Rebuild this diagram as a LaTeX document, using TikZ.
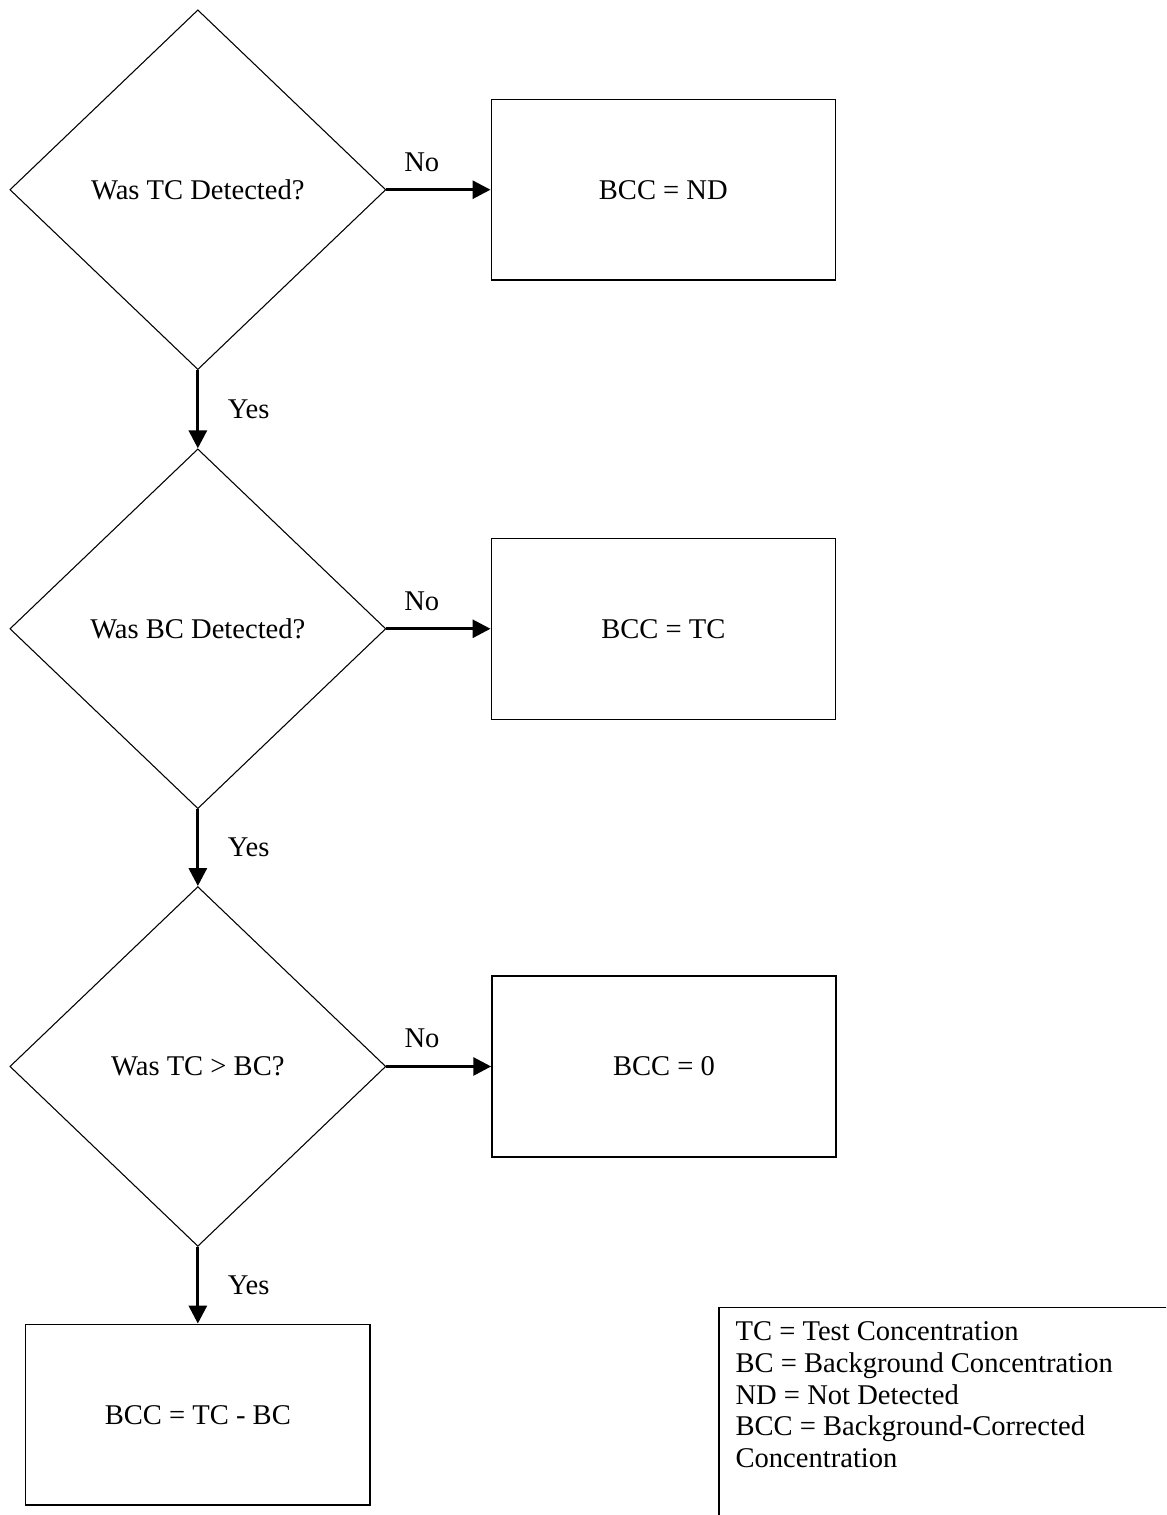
\documentclass[tikz,border=0pt]{standalone}
\usepackage{fontspec}
\setmainfont{Liberation Serif}
\usetikzlibrary{shapes.geometric,arrows.meta}

\begin{document}
\begin{tikzpicture}[font=\fontsize{12}{13.3}\selectfont,
        question/.style={draw, diamond, line width=0.45pt, inner sep=0pt, minimum width=5.55cm, minimum height=5.31cm},
        result/.style={draw, rectangle, line width=0.6pt, minimum width=5.08cm, minimum height=2.67cm},
        flow/.style={-{Triangle[length=7.5pt,width=7.5pt]}, line width=1.3pt},
        answer/.style={inner sep=0pt},
        key/.style={draw, line width=0.6pt, anchor=north west, align=flush left, text width=185pt, inner xsep=7pt, inner ysep=6pt, text depth=85pt}]
        \useasboundingbox (0,0) rectangle (17.21,-22.36);
        \clip (0,0) rectangle (17.21,-22.36);

        \node[question] (q1) at (2.92,-2.80) {Was TC Detected?};
        \node[question] (q2) at (2.92,-9.28) {Was BC Detected?};
        \node[question] (q3) at (2.92,-15.74) {Was TC > BC?};

        \node[result] (r1) at (9.79,-2.80) {BCC = ND};
        \node[result] (r2) at (9.79,-9.28) {BCC = TC};
        \node[result] (r3) at (9.80,-15.74) {BCC = 0};
        \node[result] (r4) at (2.92,-20.88) {BCC = TC - BC};

        \draw[flow] (q1.east) -- (r1.west) node[answer, pos=0.34, above=7pt] {No};
        \draw[flow] (q2.east) -- (r2.west) node[answer, pos=0.34, above=7pt] {No};
        \draw[flow] (q3.east) -- (r3.west) node[answer, pos=0.34, above=7pt] {No};

        \draw[flow] (q1.south) -- (q2.north) node[answer, midway, right=12pt] {Yes};
        \draw[flow] (q2.south) -- (q3.north) node[answer, midway, right=12pt] {Yes};
        \draw[flow] (q3.south) -- (r4.north) node[answer, midway, right=12pt] {Yes};

        \node[key] (legend) at (10.60,-19.29) {TC = Test Concentration\\
                BC = Background Concentration\\
                ND = Not Detected\\
                BCC = Background-Corrected\\
                Concentration};
    \end{tikzpicture}
\end{document}
